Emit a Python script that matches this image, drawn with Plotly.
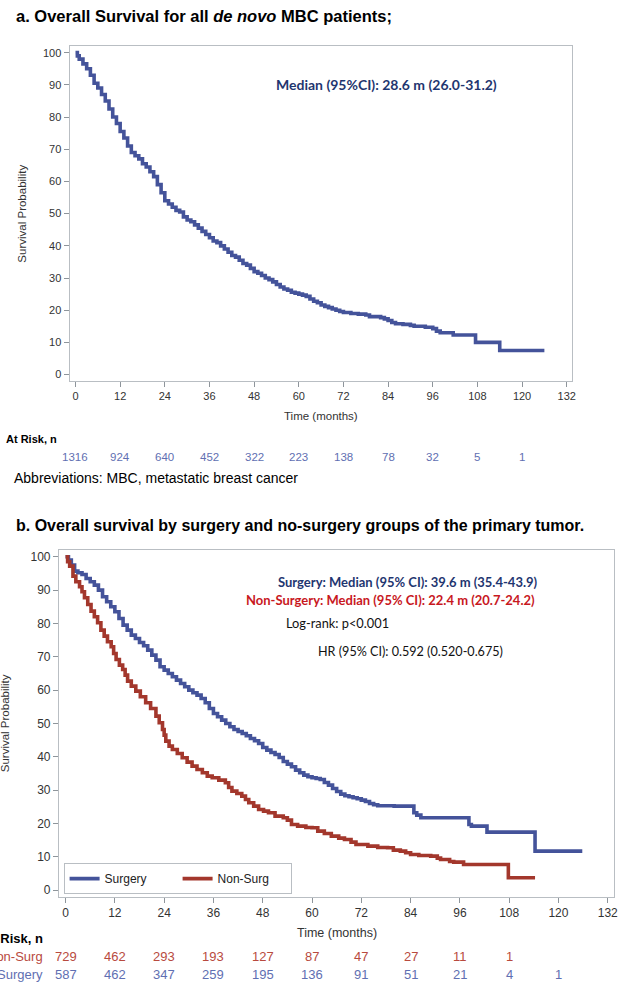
import plotly.graph_objects as go

# ---------------- data ----------------
# Panel a: overall survival, all de novo MBC patients (time in months, survival %)
t_all = [0, 0.5, 1, 2, 3, 4, 5, 6, 7, 8, 9, 10, 11, 12, 13, 14, 15, 16, 17, 18, 19, 20,
         21, 22, 23, 24, 25, 26, 27, 28, 29, 30, 31, 32, 33, 34, 35, 36, 37, 38, 39, 40,
         41, 42, 43, 44, 45, 46, 47, 48, 49, 50, 51, 52, 53, 54, 55, 56, 57, 58, 59, 60,
         61, 62, 63, 64, 65, 66, 67, 68, 69, 70, 71, 72, 74, 76, 78, 79, 82, 83, 84, 85,
         86, 88, 90, 91, 94, 96, 97, 98, 101.5, 107.5, 114, 126]
s_all = [100, 99, 98, 96.5, 95, 93, 90.5, 89, 87, 85, 82.5, 80, 78, 75.5, 73.5, 71, 69, 68,
         67, 65.5, 64.5, 63, 61.5, 59, 56.5, 54, 53, 52, 51, 50.5, 49, 48, 47.5, 46.5, 45.5,
         44.5, 43.5, 42.5, 41.5, 41, 40, 39, 38, 37, 36.5, 35.5, 34.5, 34, 33, 32, 31.5, 30.8,
         30, 29.5, 28.8, 28, 27.2, 26.6, 26.2, 25.6, 25.3, 25, 24.7, 24.3, 23.5, 22.8, 22.3,
         21.6, 21.2, 20.8, 20.4, 20, 19.6, 19.3, 19, 18.8, 18.5, 18, 17.7, 17.3, 16.8, 16.2,
         15.8, 15.6, 15.3, 15, 14.7, 14.3, 13.5, 13, 12.3, 10, 7.5, 7.5]

# Panel b: surgery group
t_surg = [0, 0.7, 1.4, 2.2, 3, 4, 5, 6, 7, 8, 9, 10, 11, 12, 13, 14, 15, 16, 17, 18, 19, 20,
          21, 22, 23, 24, 25, 26, 27, 28, 29, 30, 31, 32, 33, 34, 35, 36, 37, 38, 39, 40, 41,
          42, 43, 44, 45, 46, 47, 48, 49, 50, 51, 52, 53, 54, 55, 56, 57, 58, 59, 60, 61, 62,
          63, 64, 65, 66, 67, 68, 69, 70, 71, 72, 73, 74, 75, 76, 80, 84.8, 85.5, 86.5, 98.2,
          98.8, 102.6, 114.3, 125.8]
s_surg = [100, 99, 97.5, 95.7, 95.2, 94.7, 93.5, 92.5, 91.5, 90, 88, 86.5, 85, 83.5, 81.5,
          79.5, 78, 76.5, 75.5, 74.3, 73.3, 72, 70.5, 69, 67, 66, 65, 64, 63, 62, 61, 60, 59.2,
          58.5, 57.5, 56.2, 54.5, 53, 52, 51, 50, 49, 48.2, 47.6, 47, 46.3, 45.5, 44.8, 44,
          42.8, 42, 41.3, 40.7, 39.8, 38.6, 37.8, 37, 36, 35.2, 34.5, 34, 33.7, 33.5, 33.2,
          32.3, 31.5, 30.5, 29.6, 28.8, 28.3, 28, 27.7, 27.4, 27, 26.6, 26, 25.6, 25.3, 25.2,
          23.2, 22.5, 21.7, 19.7, 19.2, 17.4, 11.7, 11.7]

# Panel b: non-surgery group
t_nons = [0, 0.5, 1, 1.8, 2.5, 3.4, 4, 4.6, 5.4, 6.2, 7, 7.8, 8.6, 9.4, 10.2, 11.1, 11.7,
          12.3, 13.1, 13.9, 14.5, 15.1, 16, 17.1, 18.2, 19.5, 20.7, 22, 22.8, 23.6, 24, 24.4,
          25.2, 26, 27.2, 28.4, 29.6, 30.8, 32, 33.3, 34.5, 35.7, 37.3, 38.9, 39.7, 40.5, 41.7,
          42.9, 43.8, 44.6, 45.8, 47, 48.2, 49.4, 51, 53, 54, 55, 56.5, 58.5, 60, 61.4, 63,
          64.7, 66.5, 67.9, 69.5, 70.7, 73.6, 76, 78.4, 79.8, 81.5, 82.8, 84, 86, 88.9, 90.5,
          91.3, 93.5, 94.5, 96.9, 107.8, 114.3]
s_nons = [100, 98.5, 97.2, 94.2, 92.5, 91, 89.5, 87.7, 85.7, 83.7, 82, 80.2, 78, 76.2, 74.5,
          73, 71, 69.2, 67.5, 66.2, 64.5, 62.7, 61.2, 59.7, 58, 56.2, 54.5, 52.2, 50.2, 48.2,
          46.5, 44.7, 43.2, 42.2, 41, 39.7, 38.4, 37.2, 36.2, 35.2, 34.2, 33.7, 33, 32.2, 30.8,
          29.7, 29, 28.2, 27.2, 26.2, 25.2, 24.2, 23.7, 23.2, 22.2, 21.7, 21, 19.7, 19.2, 18.8,
          18.7, 17.7, 17, 16.2, 15.6, 15.2, 14.4, 13.7, 13.2, 12.8, 12.7, 12, 11.7, 11.2, 10.7,
          10.4, 10.2, 9.6, 9.2, 8.6, 8.4, 7.7, 3.7, 3.7]

# axis ticks and at-risk tables
x_ticks = [0, 12, 24, 36, 48, 60, 72, 84, 96, 108, 120, 132]
y_ticks = [0, 10, 20, 30, 40, 50, 60, 70, 80, 90, 100]
risk_times = [0, 12, 24, 36, 48, 60, 72, 84, 96, 108, 120]
risk_all = [1316, 924, 640, 452, 322, 223, 138, 78, 32, 5, 1]
risk_nons = [729, 462, 293, 193, 127, 87, 47, 27, 11, 1]
risk_surg = [587, 462, 347, 259, 195, 136, 91, 51, 21, 4, 1]

# ---------------- styling ----------------
W, H = 622, 982
BLUE = "#44539A"
RED = "#A3372C"
NAVY = "#1F3670"
ANN_RED = "#C8181E"
RISK_BLUE = "#5F6FB2"
RISK_RED = "#B84A3E"
FRAME = "#B9BEC3"
TICKC = "#8E959B"
SANS = "Liberation Sans, Arial, sans-serif"
CAL = "Lato, Open Sans, sans-serif"


def px(x):
    return x / W


def py(y):
    return 1 - y / H


fig = go.Figure()
fig.add_trace(go.Scatter(x=t_all, y=s_all, mode="lines", line=dict(color=BLUE, width=3.6, shape="hv"),
                         xaxis="x", yaxis="y", showlegend=False, name="All"))
fig.add_trace(go.Scatter(x=t_surg, y=s_surg, mode="lines", line=dict(color=BLUE, width=3.6, shape="hv"),
                         xaxis="x2", yaxis="y2", name="Surgery"))
fig.add_trace(go.Scatter(x=t_nons, y=s_nons, mode="lines", line=dict(color=RED, width=3.6, shape="hv"),
                         xaxis="x2", yaxis="y2", name="Non-Surg"))


def xax(domain, rng, anchor, size):
    return dict(domain=domain, range=rng, anchor=anchor, tickvals=x_ticks, ticks="outside",
                ticklen=5, tickcolor=TICKC, showline=True, mirror=True, linecolor=FRAME,
                linewidth=1, showgrid=False, zeroline=False,
                tickfont=dict(family=SANS, size=size, color="#333333"))


def yax(domain, rng, anchor, size):
    return dict(domain=domain, range=rng, anchor=anchor, tickvals=y_ticks, ticks="outside",
                ticklen=5, tickcolor=TICKC, showline=True, mirror=True, linecolor=FRAME,
                linewidth=1, showgrid=False, zeroline=False,
                tickfont=dict(family=SANS, size=size, color="#333333"))


anns = []


def text(x, y, s, size, color="#000000", family=SANS, xanchor="left", xref="paper", angle=0):
    anns.append(dict(x=x, y=y, xref=xref, yref="paper", text=s, showarrow=False,
                     xanchor=xanchor, yanchor="middle", textangle=angle,
                     font=dict(family=family, size=size, color=color)))


# Panel a texts
text(px(14), py(16), "<b>a. Overall Survival for all <i>de novo</i> MBC patients;</b>", 16.5)
text(px(389), py(85), "<b>Median (95%CI): 28.6 m (26.0-31.2)</b>", 14, NAVY, CAL, "center")
text(px(22), py(214), "Survival Probability", 11.5, "#333333", SANS, "center", angle=-90)
text(px(323), py(416), "Time (months)", 11.5, "#333333", SANS, "center")
text(px(4), py(439), "<b>At Risk, n</b>", 11, "#000000", SANS)
for t, n in zip(risk_times, risk_all):
    text(t, py(457), str(n), 11.5, RISK_BLUE, SANS, "center", xref="x")
text(px(12), py(478), "Abbreviations: MBC, metastatic breast cancer", 14)

# Panel b texts
text(px(14), py(526), "<b>b. Overall survival by surgery and no-surgery groups of the primary tumor.</b>", 16)
text(px(543), py(583), "<b>Surgery: Median (95% CI): 39.6 m (35.4-43.9)</b>", 13, NAVY, CAL, "right")
text(px(540), py(600.5), "<b>Non-Surgery: Median (95% CI): 22.4 m (20.7-24.2)</b>", 13, ANN_RED, CAL, "right")
text(px(286), py(623.5), "Log-rank: p<0.001", 12.8, "#111111", CAL)
text(px(318), py(652.5), "HR (95% CI): 0.592 (0.520-0.675)", 12.6, "#111111", CAL)
text(px(5), py(724), "Survival Probability", 11.5, "#333333", SANS, "center", angle=-90)
text(px(339), py(934), "Time (months)", 12.5, "#333333", SANS, "center")
text(px(45), py(939), "<b>At Risk, n</b>", 13, "#000000", SANS, "right")
text(px(45), py(957), "Non-Surg", 13, RISK_RED, SANS, "right")
text(px(45), py(975), "Surgery", 13, RISK_BLUE, SANS, "right")
for t, n in zip(risk_times, risk_nons):
    text(t, py(957), str(n), 13, RISK_RED, SANS, "center", xref="x2")
for t, n in zip(risk_times, risk_surg):
    text(t, py(975), str(n), 13, RISK_BLUE, SANS, "center", xref="x2")

fig.update_layout(
    width=W, height=H, margin=dict(l=0, r=0, t=0, b=0),
    paper_bgcolor="white", plot_bgcolor="white",
    xaxis=xax([px(70), px(576)], [-1.6, 133.5], "y", 11),
    yaxis=yax([py(381), py(46)], [-1.86, 102.08], "x", 11),
    xaxis2=xax([px(59.3), px(618.3)], [-1.62, 133.6], "y2", 12),
    yaxis2=yax([py(897.7), py(551)], [-2.0, 101.9], "x2", 12),
    legend=dict(orientation="h", x=px(64), y=py(895), xanchor="left", yanchor="bottom",
                bordercolor=FRAME, borderwidth=1, bgcolor="white", traceorder="normal",
                entrywidth=68, entrywidthmode="pixels", itemwidth=30,
                font=dict(family=SANS, size=12, color="#222222")),
    annotations=anns,
    showlegend=True,
)

fig.write_html("out.html", config={"displayModeBar": False},
               post_script="document.body.style.margin='0';document.body.style.padding='0';")
